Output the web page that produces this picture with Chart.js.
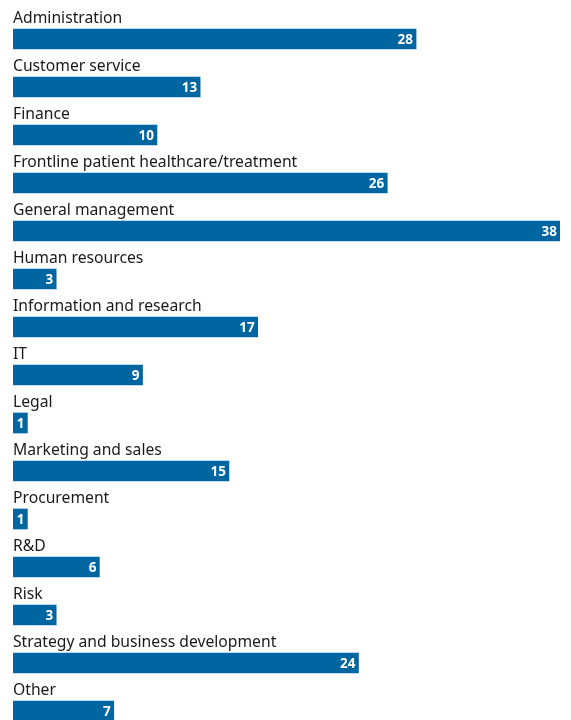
<!DOCTYPE html>
<html>
<head>
<meta charset="utf-8">
<script src="https://cdn.jsdelivr.net/npm/chart.js@4"></script>
<style>
  html, body { margin: 0; padding: 0; background: #fff; overflow: hidden; }
  #wrap { width: 571px; height: 740px; position: relative; }
</style>
</head>
<body>
<div id="wrap"><canvas id="myChart"></canvas></div>
<script>
// datos del gráfico
const categories = [
    'Administration', 'Customer service', 'Finance',
    'Frontline patient healthcare/treatment', 'General management',
    'Human resources', 'Information and research', 'IT', 'Legal',
    'Marketing and sales', 'Procurement', 'R&D', 'Risk',
    'Strategy and business development', 'Other'
];
const values = [28, 13, 10, 26, 38, 3, 17, 9, 1, 15, 1, 6, 3, 24, 7];
const xMax = 38;

const barColor = '#0066a1';
const labelFont = '15.7px "Noto Sans"';
const valueFont = 'bold 13.5px "Noto Sans"';

// etiqueta encima de cada barra y valor dentro del extremo
const barLabels = {
    id: 'barLabels',
    afterDatasetsDraw(chart) {
        const ctx = chart.ctx;
        const meta = chart.getDatasetMeta(0);
        const left = chart.chartArea.left;
        ctx.save();
        meta.data.forEach((bar, i) => {
            const top = bar.y - bar.height / 2;
            ctx.font = labelFont;
            ctx.fillStyle = '#1a1a1a';
            ctx.textAlign = 'left';
            ctx.textBaseline = 'alphabetic';
            ctx.fillText(categories[i], left, top - 6);

            ctx.font = valueFont;
            ctx.fillStyle = '#ffffff';
            ctx.textAlign = 'right';
            ctx.textBaseline = 'middle';
            ctx.fillText(String(values[i]), bar.x - 3, bar.y + 1);
        });
        ctx.restore();
    }
};

const ctx = document.getElementById('myChart').getContext('2d');
new Chart(ctx, {
    type: 'bar',
    data: {
        labels: categories,
        datasets: [{
            data: values,
            backgroundColor: barColor,
            borderWidth: 0,
            barThickness: 20
        }]
    },
    options: {
        indexAxis: 'y',
        responsive: true,
        maintainAspectRatio: false,
        animation: false,
        layout: { padding: { left: 13, right: 11, top: 15, bottom: 5 } },
        plugins: {
            legend: { display: false },
            tooltip: { enabled: false }
        },
        scales: {
            x: { display: false, min: 0, max: xMax },
            y: { display: false }
        }
    },
    plugins: [barLabels]
});
</script>
</body>
</html>
